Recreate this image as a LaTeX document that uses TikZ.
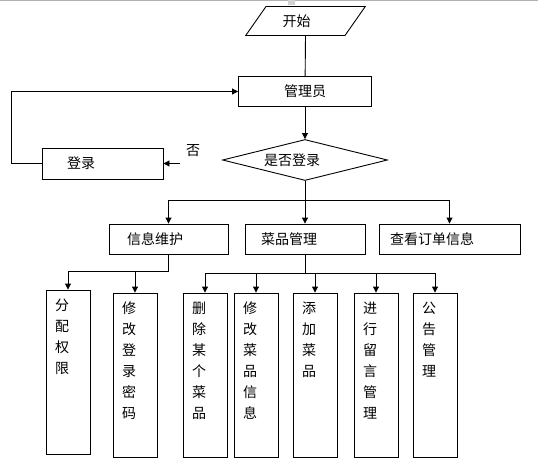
\documentclass[tikz,border=0pt]{standalone}
\usepackage{fontspec}
\setmainfont{Noto Sans CJK SC}
\usetikzlibrary{shapes.geometric,arrows.meta}
\newcommand\vcol[1]{\parbox[c][146pt][t]{26pt}{#1}}

\begin{document}
\begin{tikzpicture}[x=1pt,y=-1pt,
    font=\fontsize{14}{21}\selectfont,
    line width=0.9pt,
    >={Triangle[length=6pt,width=6pt]},
    box/.style={draw,rectangle,minimum height=30pt,inner ysep=0pt,align=left},
    tallbox/.style={draw,rectangle,inner xsep=9pt,inner ysep=9pt}]
      \useasboundingbox (0,0) rectangle (538,461);
      \draw[gray!60,line width=1.2pt] (0,0.6) -- (538,0.6);
      \fill[gray!35] (288,0) rectangle (295,5);
      \draw
        (305.5,21) node[draw,trapezium,trapezium left angle=55,trapezium right angle=125,
          inner xsep=16.5pt,inner ysep=8pt] (start){开始\kern18pt}
        (305,91.5) node[box,minimum width=133pt] (admin){管理员}
        (305,160) node[draw,diamond,aspect=4,minimum width=165pt,minimum height=41pt,inner sep=0pt] (ask){是否登录\kern26pt}
        (102.5,163.5) node[box,minimum height=31pt,inner xsep=25pt,text width=71pt] (login){登录}
        (193,151) node (nolabel){否}
        (168.5,239) node[box,inner xsep=18pt,text width=83pt] (info){信息维护}
        (305,239) node[box,inner xsep=16pt,text width=88pt] (dish){菜品管理}
        (449.5,239) node[box,inner xsep=11pt,text width=119pt] (order){查看订单信息}
        (68,372) node[tallbox] (perm){\vcol{分\\配\\权\\限}}
        (135,375) node[tallbox] (pwd){\vcol{修\\改\\登\\录\\密\\码}}
        (205,375) node[tallbox] (del){\vcol{删\\除\\某\\个\\菜\\品}}
        (256,375) node[tallbox] (edit){\vcol{修\\改\\菜\\品\\信\\息}}
        (315,375) node[tallbox] (add){\vcol{添\\加\\菜\\品}}
        (376,375) node[tallbox] (msg){\vcol{进\\行\\留\\言\\管\\理}}
        (435,375) node[tallbox] (notice){\vcol{公\\告\\管\\理}};
      \coordinate (no) at (180,163.5);
      \coordinate (back) at (11,0);
      \coordinate (split) at (305,200);
      \coordinate (isplit) at (168.5,271);
      \coordinate (dsplit) at (305,273);
      \draw (start.center |- start.south) -- (admin);
      \draw (ask) -- (split);
      \draw (info) -- (isplit);
      \draw (dish) -- (dsplit);
      \begin{scope}[->]
        \draw (admin) -- (ask);
        \draw (no) -- (login.east);
        \draw (login.west) -| (back |- admin.west) -- (admin.west);
        \draw (split) -| (info);
        \draw (split) -- (dish);
        \draw (split) -| (order);
        \draw (isplit) -| (perm);
        \draw (isplit) -| (pwd);
        \foreach \n in {del,edit,add,msg,notice}
          \draw (dsplit) -| (\n);
      \end{scope}
    \end{tikzpicture}
\end{document}
